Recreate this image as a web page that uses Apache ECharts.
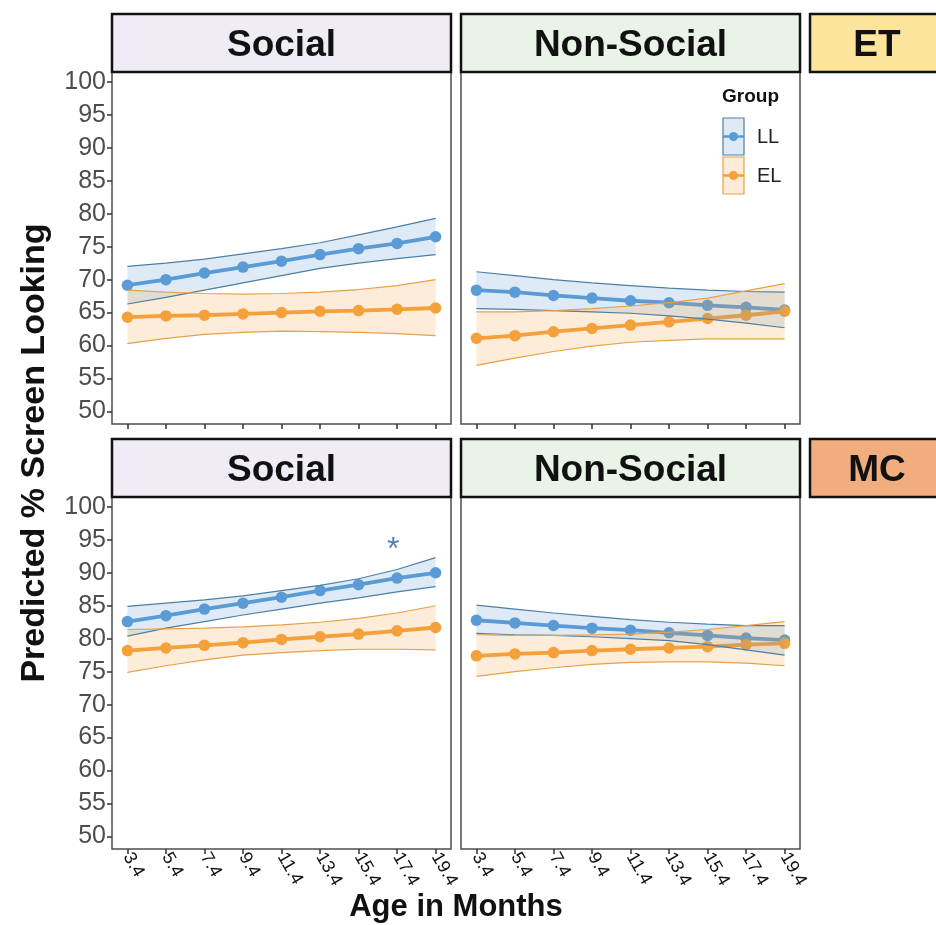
<!DOCTYPE html>
<html><head><meta charset="utf-8">
<script src="https://cdn.jsdelivr.net/npm/echarts@6/dist/echarts.min.js"></script>
<style>html,body{margin:0;padding:0;background:#fff}#c{width:936px;height:925px}</style>
</head><body><div id="c"></div><script>
const ages = [3.4, 5.4, 7.4, 9.4, 11.4, 13.4, 15.4, 17.4, 19.4];
const yTicks = [50, 55, 60, 65, 70, 75, 80, 85, 90, 95, 100];
const groups = ['LL', 'EL'];
const stimulus = ['Social', 'Non-Social'];
const tasks = ['ET', 'MC'];
// ET - Social
const etSocLL = [69.15, 70.0, 71.0, 71.9, 72.8, 73.8, 74.7, 75.5, 76.5];
const etSocLLlo = [66.3, 67.3, 68.4, 69.5, 70.6, 71.7, 72.5, 73.2, 73.8];
const etSocLLhi = [72.0, 72.5, 73.1, 73.9, 74.7, 75.6, 76.8, 78.0, 79.3];
const etSocEL = [64.3, 64.5, 64.6, 64.8, 65.0, 65.2, 65.3, 65.5, 65.7];
const etSocELlo = [60.3, 61.1, 61.7, 62.0, 62.2, 62.1, 62.0, 61.8, 61.5];
const etSocELhi = [68.4, 68.1, 67.9, 67.8, 67.9, 68.1, 68.5, 69.1, 70.0];
// ET - Non-Social
const etNonLL = [68.4, 68.1, 67.6, 67.2, 66.8, 66.5, 66.1, 65.8, 65.4];
const etNonLLlo = [65.6, 65.5, 65.3, 65.1, 64.9, 64.5, 64.0, 63.4, 62.7];
const etNonLLhi = [71.2, 70.6, 70.0, 69.5, 69.1, 68.7, 68.4, 68.2, 68.1];
const etNonEL = [61.1, 61.5, 62.1, 62.6, 63.1, 63.6, 64.1, 64.6, 65.2];
const etNonELlo = [57.0, 58.1, 59.1, 59.9, 60.5, 60.8, 61.0, 61.0, 61.0];
const etNonELhi = [65.1, 65.1, 65.3, 65.6, 66.0, 66.5, 67.2, 68.3, 69.4];
// MC - Social
const mcSocLL = [82.6, 83.5, 84.5, 85.4, 86.3, 87.3, 88.2, 89.2, 90.0];
const mcSocLLlo = [80.4, 81.6, 82.6, 83.6, 84.5, 85.4, 86.2, 87.1, 87.9];
const mcSocLLhi = [84.9, 85.4, 85.9, 86.5, 87.3, 88.1, 89.1, 90.5, 92.3];
const mcSocEL = [78.2, 78.6, 79.0, 79.4, 79.9, 80.3, 80.7, 81.2, 81.7];
const mcSocELlo = [74.9, 75.9, 76.8, 77.5, 77.9, 78.2, 78.4, 78.4, 78.3];
const mcSocELhi = [81.4, 81.5, 81.6, 81.8, 82.1, 82.5, 83.1, 83.9, 85.0];
// MC - Non-Social
const mcNonLL = [82.8, 82.4, 82.0, 81.6, 81.3, 80.9, 80.5, 80.1, 79.8];
const mcNonLLlo = [80.8, 80.6, 80.5, 80.3, 80.0, 79.7, 79.1, 78.3, 77.5];
const mcNonLLhi = [85.1, 84.5, 83.9, 83.4, 82.9, 82.5, 82.2, 82.0, 82.0];
const mcNonEL = [77.4, 77.7, 77.9, 78.2, 78.4, 78.6, 78.8, 79.1, 79.3];
const mcNonELlo = [74.3, 75.0, 75.6, 76.1, 76.4, 76.5, 76.5, 76.3, 75.9];
const mcNonELhi = [80.6, 80.5, 80.5, 80.6, 80.7, 81.0, 81.4, 82.0, 82.6];
// significance marker (MC - Social)
const sigX = [17.2];
const sigY = [94.6];
const sigText = ['*'];

const panels = [
  {LL: etSocLL, LLlo: etSocLLlo, LLhi: etSocLLhi, EL: etSocEL, ELlo: etSocELlo, ELhi: etSocELhi},
  {LL: etNonLL, LLlo: etNonLLlo, LLhi: etNonLLhi, EL: etNonEL, ELlo: etNonELlo, ELhi: etNonELhi},
  {LL: mcSocLL, LLlo: mcSocLLlo, LLhi: mcSocLLhi, EL: mcSocEL, ELlo: mcSocELlo, ELhi: mcSocELhi},
  {LL: mcNonLL, LLlo: mcNonLLlo, LLhi: mcNonLLhi, EL: mcNonEL, ELlo: mcNonELlo, ELhi: mcNonELhi}
];

const col = {LL: '#5B9BD5', EL: '#F4A03B'};
const band = {LL: 'rgba(91,155,213,0.2)', EL: 'rgba(244,160,59,0.2)'};
const edge = {LL: '#4C7FA6', EL: '#E9A04A'};
const FONT = '"Liberation Sans", Arial, sans-serif';

const gridPos = [
  {left: 112, top: 72}, {left: 461, top: 72},
  {left: 112, top: 497}, {left: 461, top: 497}
];
const grid = gridPos.map(g => ({left: g.left, top: g.top, width: 339, height: 352,
  show: true, borderColor: '#4d4d4d', borderWidth: 1.5, backgroundColor: '#fff', containLabel: false}));

const xAxis = gridPos.map((g, i) => ({
  type: 'value', gridIndex: i, min: 2.6, max: 20.2,
  axisLine: {show: false}, splitLine: {show: false},
  axisTick: {show: true, length: 5, lineStyle: {color: '#333', width: 1.5}, customValues: ages},
  axisLabel: {show: i >= 2, customValues: ages, rotate: -60, fontSize: 18, color: '#111',
    fontFamily: FONT, margin: 5, formatter: v => v.toFixed(1)}
}));
const yAxis = gridPos.map((g, i) => ({
  type: 'value', gridIndex: i, min: 48.1, max: 101.5,
  axisLine: {show: false}, splitLine: {show: false},
  axisTick: {show: i % 2 === 0, length: 5, lineStyle: {color: '#333', width: 1.5}, customValues: yTicks},
  axisLabel: {show: i % 2 === 0, customValues: yTicks, fontSize: 25, color: '#4d4d4d',
    fontFamily: FONT, margin: 6}
}));

// data are given as [y, x] with encode so the y column is the stacked one
const series = [];
panels.forEach((p, i) => {
  groups.forEach(gname => {
    series.push({
      type: 'line', name: gname, xAxisIndex: i, yAxisIndex: i, z: 2,
      data: ages.map((x, k) => [p[gname][k], x]), encode: {x: 1, y: 0},
      symbol: 'circle', symbolSize: 11.5, showSymbol: true,
      lineStyle: {color: col[gname], width: 3.8},
      itemStyle: {color: col[gname], borderWidth: 0},
      silent: true, animation: false
    });
  });
  groups.forEach(gname => {
    const st = 'band' + gname + i;
    series.push({
      type: 'line', xAxisIndex: i, yAxisIndex: i, stack: st, z: 3,
      data: ages.map((x, k) => [p[gname + 'lo'][k], x]), encode: {x: 1, y: 0},
      symbol: 'none', lineStyle: {color: edge[gname], width: 1.2},
      silent: true, animation: false
    });
    series.push({
      type: 'line', xAxisIndex: i, yAxisIndex: i, stack: st, z: 3,
      data: ages.map((x, k) => [+(p[gname + 'hi'][k] - p[gname + 'lo'][k]).toFixed(3), x]), encode: {x: 1, y: 0},
      symbol: 'none', lineStyle: {color: edge[gname], width: 1.2},
      areaStyle: {color: band[gname], opacity: 1},
      silent: true, animation: false
    });
  });
});
series.push({
  type: 'scatter', xAxisIndex: 2, yAxisIndex: 2, z: 5,
  data: sigX.map((x, k) => [x, sigY[k]]),
  symbolSize: 1, itemStyle: {color: 'rgba(0,0,0,0)'},
  label: {show: true, position: 'inside', formatter: p => sigText[p.dataIndex],
    fontSize: 32, color: '#2A6199', fontFamily: FONT, offset: [0, 8]},
  silent: true, animation: false
});

function strip(x, y, w, h, fill, text) {
  return [{
    type: 'rect', shape: {x: x, y: y, width: w, height: h},
    style: {fill: fill, stroke: '#111', lineWidth: 2.5}, z: 10
  }, {
    type: 'text', x: x + w / 2, y: y + h / 2 + 3, z: 11,
    style: {text: text, font: 'bold 37px ' + FONT, fill: '#111', align: 'center', verticalAlign: 'middle'}
  }];
}
const stripFill = {'Social': '#F0ECF5', 'Non-Social': '#EAF3E7', 'ET': '#FCE49C', 'MC': '#F2AD7F'};
let graphic = [];
[14, 439].forEach((y, r) => {
  graphic = graphic.concat(strip(112, y, 339, 58, stripFill[stimulus[0]], stimulus[0]));
  graphic = graphic.concat(strip(461, y, 339, 58, stripFill[stimulus[1]], stimulus[1]));
  graphic.push({type: 'rect', shape: {x: 810, y: y, width: 140, height: 58},
    style: {fill: stripFill[tasks[r]], stroke: '#111', lineWidth: 2.5}, z: 10});
  graphic.push({type: 'text', x: 877, y: y + 32, z: 11,
    style: {text: tasks[r], font: 'bold 37px ' + FONT, fill: '#111', align: 'center', verticalAlign: 'middle'}});
});
// legend
graphic.push({type: 'text', x: 722, y: 97, z: 12,
  style: {text: 'Group', font: 'bold 19px ' + FONT, fill: '#111', verticalAlign: 'middle'}});
groups.forEach((gname, k) => {
  const y0 = 118 + k * 39;
  graphic.push({type: 'rect', shape: {x: 723, y: y0, width: 21, height: 37},
    style: {fill: band[gname], stroke: edge[gname], lineWidth: 1.2}, z: 12});
  graphic.push({type: 'line', shape: {x1: 723, y1: y0 + 18.5, x2: 744, y2: y0 + 18.5},
    style: {stroke: col[gname], lineWidth: 2.5}, z: 12});
  graphic.push({type: 'circle', shape: {cx: 733.5, cy: y0 + 18.5, r: 4.5},
    style: {fill: col[gname]}, z: 12});
  graphic.push({type: 'text', x: 757, y: y0 + 19, z: 12,
    style: {text: gname, font: '20px ' + FONT, fill: '#222', verticalAlign: 'middle'}});
});
// axis titles
graphic.push({type: 'text', x: 35, y: 453, rotation: Math.PI / 2, z: 12,
  style: {text: 'Predicted % Screen Looking', font: 'bold 34px ' + FONT, fill: '#111', align: 'center', verticalAlign: 'middle'}});
graphic.push({type: 'text', x: 456, y: 907, z: 12,
  style: {text: 'Age in Months', font: 'bold 31px ' + FONT, fill: '#111', align: 'center', verticalAlign: 'middle'}});

const chart = echarts.init(document.getElementById('c'), null, {renderer: 'canvas'});
chart.setOption({animation: false, grid, xAxis, yAxis, series, graphic});
</script></body></html>
